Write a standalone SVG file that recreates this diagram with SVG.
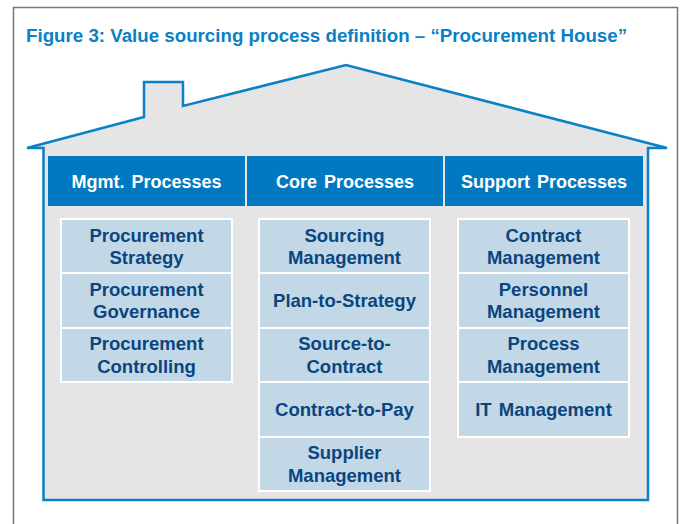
<svg xmlns="http://www.w3.org/2000/svg" width="680" height="524" viewBox="0 0 680 524">
<style>
.title{font-family:"Liberation Sans",Arial,sans-serif;font-weight:bold;font-size:18px;fill:#0a80c6}
.hdr{fill:#0079c1}
.hdrt{font-family:"Liberation Sans",Arial,sans-serif;font-weight:bold;font-size:18px;fill:#ffffff;text-anchor:middle;word-spacing:2px}
.box{fill:#c2d8e6;stroke:#ffffff;stroke-width:2}
.bt{font-family:"Liberation Sans",Arial,sans-serif;font-weight:bold;font-size:18.5px;fill:#0b4580;text-anchor:middle;word-spacing:2px}
</style>
<rect x="0" y="0" width="680" height="524" fill="#ffffff"/>
<rect x="13.5" y="7.5" width="664" height="530" fill="none" stroke="#777777" stroke-width="1.5"/>
<text class="title" x="26" y="42" textLength="601" lengthAdjust="spacingAndGlyphs">Figure 3: Value sourcing process definition – “Procurement House”</text>
<g id="house">
<path d="M27,148 L144,117 L144,82 L183,82 L183,106 L346,65 L667,148 L648,148 L648,500 L43.5,500 L43.5,148 Z" fill="#e5e5e5" stroke="#0a80c6" stroke-width="2.5" stroke-linejoin="miter"/>
</g>
<g id="headers">
<g id="h-mgmt"><rect class="hdr" x="48" y="156" width="197" height="50"/><text class="hdrt" x="146.5" y="188">Mgmt. Processes</text></g>
<g id="h-core"><rect class="hdr" x="247" y="156" width="196" height="50"/><text class="hdrt" x="345" y="188">Core Processes</text></g>
<g id="h-support"><rect class="hdr" x="445" y="156" width="198" height="50"/><text class="hdrt" x="544" y="188">Support Processes</text></g>
</g>
<g id="mgmt">
<g id="m1"><rect class="box" x="61" y="219" width="171" height="54"/><text class="bt" x="146.5" y="242">Procurement</text><text class="bt" x="146.5" y="264">Strategy</text></g>
<g id="m2"><rect class="box" x="61" y="273" width="171" height="55"/><text class="bt" x="146.5" y="296">Procurement</text><text class="bt" x="146.5" y="318">Governance</text></g>
<g id="m3"><rect class="box" x="61" y="328" width="171" height="54"/><text class="bt" x="146.5" y="350">Procurement</text><text class="bt" x="146.5" y="373">Controlling</text></g>
</g>
<g id="core">
<g id="c1"><rect class="box" x="259" y="219" width="171" height="54"/><text class="bt" x="344.5" y="242">Sourcing</text><text class="bt" x="344.5" y="264">Management</text></g>
<g id="c2"><rect class="box" x="259" y="273" width="171" height="55"/><text class="bt" x="344.5" y="307">Plan-to-Strategy</text></g>
<g id="c3"><rect class="box" x="259" y="328" width="171" height="54"/><text class="bt" x="344.5" y="350">Source-to-</text><text class="bt" x="344.5" y="373">Contract</text></g>
<g id="c4"><rect class="box" x="259" y="382" width="171" height="55"/><text class="bt" x="344.5" y="416">Contract-to-Pay</text></g>
<g id="c5"><rect class="box" x="259" y="437" width="171" height="54"/><text class="bt" x="344.5" y="459">Supplier</text><text class="bt" x="344.5" y="482">Management</text></g>
</g>
<g id="support">
<g id="s1"><rect class="box" x="458" y="219" width="171" height="54"/><text class="bt" x="543.5" y="242">Contract</text><text class="bt" x="543.5" y="264">Management</text></g>
<g id="s2"><rect class="box" x="458" y="273" width="171" height="55"/><text class="bt" x="543.5" y="296">Personnel</text><text class="bt" x="543.5" y="318">Management</text></g>
<g id="s3"><rect class="box" x="458" y="328" width="171" height="54"/><text class="bt" x="543.5" y="350">Process</text><text class="bt" x="543.5" y="373">Management</text></g>
<g id="s4"><rect class="box" x="458" y="382" width="171" height="55"/><text class="bt" x="543.5" y="416">IT Management</text></g>
</g>
<g id="connectors"></g>
</svg>
